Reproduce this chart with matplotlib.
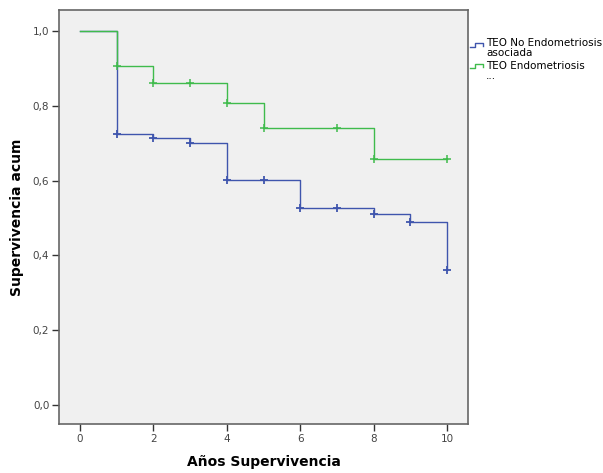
import matplotlib
matplotlib.use("Agg")
import matplotlib.pyplot as plt
from matplotlib.lines import Line2D

# survival steps (time, cumulative survival after the step)
t_no = [0, 1, 2, 3, 4, 6, 8, 9, 10]
s_no = [1.0, 0.724, 0.713, 0.700, 0.602, 0.527, 0.511, 0.489, 0.361]
cens_no_t = [1, 2, 3, 4, 5, 6, 7, 8, 9, 10]
cens_no_s = [0.724, 0.713, 0.700, 0.602, 0.602, 0.527, 0.527, 0.511, 0.489, 0.361]

t_endo = [0, 1, 2, 4, 5, 8, 10]
s_endo = [1.0, 0.905, 0.861, 0.807, 0.741, 0.658, 0.658]
cens_endo_t = [1, 2, 3, 4, 5, 7, 8, 10]
cens_endo_s = [0.905, 0.861, 0.861, 0.807, 0.741, 0.741, 0.658, 0.658]

labels = ["TEO No Endometriosis\nasociada", "TEO Endometriosis\n..."]
blue = "#3f55ad"
green = "#3fbb4c"

fig = plt.figure(figsize=(6.03, 4.73), dpi=100)
ax = fig.add_axes([59/603, 49/473, 409/603, 414/473])
ax.set_facecolor("#f0f0f0")

ax.step(t_no, s_no, where="post", color=blue, lw=1.0)
ax.step(t_endo, s_endo, where="post", color=green, lw=1.0)
ax.plot(cens_no_t, cens_no_s, "+", color=blue, ms=6, mew=1.3)
ax.plot(cens_endo_t, cens_endo_s, "+", color=green, ms=6, mew=1.1)

ax.set_xlim(-0.572, 10.57)
ax.set_ylim(-0.051, 1.056)
ax.set_xticks([0, 2, 4, 6, 8, 10])
ax.set_yticks([0, 0.2, 0.4, 0.6, 0.8, 1.0])
ax.set_yticklabels(["0,0", "0,2", "0,4", "0,6", "0,8", "1,0"])
ax.tick_params(direction="out", length=5, width=1, color="#333333",
               labelsize=7.5, labelcolor="#444444", pad=2)
for sp in ax.spines.values():
    sp.set_color("#666666")
    sp.set_linewidth(1.2)

ax.set_xlabel("Años Supervivencia", fontsize=10, fontweight="bold", labelpad=8)
ax.set_ylabel("Supervivencia acum", fontsize=10, fontweight="bold", labelpad=6)

# legend outside, with little step icons
def icon(x0, y0, color):
    xs = [x0, x0 + 5, x0 + 5, x0 + 13, x0 + 13]
    ys = [y0 + 2, y0 + 2, y0 - 2, y0 - 2, y0 + 1]
    fig.add_artist(Line2D([x / 603 for x in xs], [1 - y / 473 for y in ys],
                          color=color, lw=1.0, transform=fig.transFigure))

icon(470, 45, blue)
icon(470, 66, green)
fig.text(486/603, 1 - 48/473, labels[0], fontsize=7.5, va="center",
         ha="left", linespacing=1.0)
fig.text(486/603, 1 - 71/473, labels[1], fontsize=7.5, va="center",
         ha="left", linespacing=1.0)

plt.savefig("out.png", dpi=100)
